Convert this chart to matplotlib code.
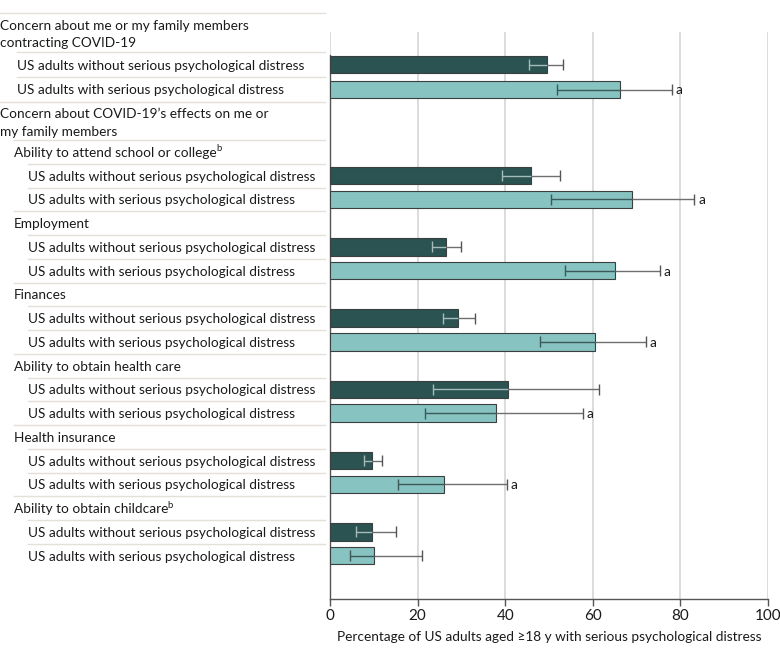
import matplotlib
matplotlib.use("Agg")
import matplotlib.pyplot as plt
import matplotlib.transforms as mtransforms
from matplotlib.lines import Line2D

# ---------------- data ----------------
group1_title = "Concern about me or my family members\ncontracting COVID-19"
group2_title = "Concern about COVID-19\u2019s effects on me or\nmy family members"
series_labels = ["US adults without serious psychological distress",
                 "US adults with serious psychological distress"]

sub_categories = ["Ability to attend school or college", "Employment", "Finances",
                  "Ability to obtain health care", "Health insurance",
                  "Ability to obtain childcare"]
sub_superscripts = ["b", "", "", "", "", "b"]

# values: first entry is group 1 (contracting COVID-19), then the sub categories
without_vals = [49.5, 45.8, 26.5, 29.3, 40.6, 9.5, 9.7]
without_lo   = [45.5, 39.2, 23.4, 25.9, 23.6, 7.7, 6.0]
without_hi   = [53.1, 52.5, 30.0, 33.1, 61.5, 11.8, 15.1]
with_vals    = [66.1, 69.0, 65.1, 60.6, 37.8, 26.0, 10.1]
with_lo      = [51.9, 50.5, 53.6, 48.0, 21.8, 15.5, 4.6]
with_hi      = [78.0, 83.2, 75.3, 72.1, 57.7, 40.3, 21.1]
with_sig     = ["a", "a", "a", "a", "a", "a", ""]

xticks = [0, 20, 40, 60, 80, 100]
xlabel = "Percentage of US adults aged \u226518 y with serious psychological distress"

# ---------------- style ----------------
W, H = 780, 654
DARK = "#2a5352"
LIGHT = "#86c3c1"
EDGE = "#3a3f3f"
SEP = "#e3e0d8"
GRID = "#dcdcdc"
TXT = "#1a1a1a"
FONT = ["Lato", "DejaVu Sans"]

plt.rcParams["font.family"] = FONT

fig = plt.figure(figsize=(W / 100, H / 100), dpi=100)
renderer = fig.canvas.get_renderer()

# fit font size so that the series label spans ~286 px like the reference
_t = fig.text(0, 0, series_labels[0], fontsize=10)
_w = _t.get_window_extent(renderer=renderer).width
_t.remove()
FS = 10 * 286 / _w

ax_left, ax_right = 330, 768
ax_top, ax_bot = 32, 599
ax = fig.add_axes([ax_left / W, 1 - ax_bot / H, (ax_right - ax_left) / W, (ax_bot - ax_top) / H])
ax.set_xlim(0, 100)
ax.set_ylim(ax_bot, ax_top)

# ---------------- layout (pixel rows) ----------------
rows = []
y = 13.0
rows.append(("head", group1_title, 0, y, y + 39)); y += 39
for s in range(2):
    rows.append(("bar", series_labels[s], 17, y, y + 25, 0, s)); y += 25
rows.append(("head", group2_title, 0, y, y + 38)); y += 38
P = 23.75
for i, cat in enumerate(sub_categories):
    rows.append(("sub", cat, 14, y, y + P, i + 1, sub_superscripts[i])); y += P
    for s in range(2):
        rows.append(("bar", series_labels[s], 28, y, y + P, i + 1, s)); y += P

trans = mtransforms.blended_transform_factory(fig.transFigure, ax.transData)

ax.set_axisbelow(True)
ax.grid(axis="x", color=GRID, lw=1.4)
ax.grid(axis="y", visible=False)

BAR_H = 17.5
CAP = 5.5

for r in rows:
    kind, text, indent, yt, yb = r[:5]
    yc = (yt + yb) / 2
    ax.add_line(Line2D([indent / W, 325 / W], [yt, yt], transform=trans, color=SEP,
                       lw=1.0, clip_on=False))
    if kind == "head":
        lines = text.split("\n")
        ax.text(0 / W, yt + 11.5, lines[0], transform=trans, va="center_baseline",
                ha="left", fontsize=FS, color=TXT)
        ax.text(0 / W, yt + 29, lines[1], transform=trans, va="center_baseline",
                ha="left", fontsize=FS, color=TXT)
    elif kind == "sub":
        t = ax.text(indent / W, yc, text, transform=trans, va="center_baseline",
                    ha="left", fontsize=FS, color=TXT)
        sup = r[6]
        if sup:
            bb = t.get_window_extent(renderer=renderer)
            ax.text(bb.x1 / W - 0.5 / W, yc - 4, sup, transform=trans, va="center_baseline",
                    ha="left", fontsize=FS * 0.7, color=TXT)
    else:
        g, s = r[5], r[6]
        ax.text(indent / W, yc, text, transform=trans, va="center_baseline",
                ha="left", fontsize=FS, color=TXT)
        if s == 0:
            v, lo, hi, col, inner = without_vals[g], without_lo[g], without_hi[g], DARK, "#a6bcbb"
            sig = ""
        else:
            v, lo, hi, col, inner = with_vals[g], with_lo[g], with_hi[g], LIGHT, "#3c5858"
            sig = with_sig[g]
        ax.barh(yc, v, height=BAR_H, color=col, edgecolor=EDGE, linewidth=0.8, zorder=3)
        ax.hlines(yc, lo, min(v, hi), color=inner, lw=1.0, zorder=4)
        if hi > v:
            ax.hlines(yc, v, hi, color="#6f6f6f", lw=1.0, zorder=4)
        ax.vlines(lo, yc - CAP, yc + CAP, color=inner, lw=1.0, zorder=4)
        ax.vlines(hi, yc - CAP, yc + CAP, color="#555555" if hi > v else inner, lw=1.0, zorder=4)
        if sig:
            ax.annotate(sig, (hi, yc), xytext=(3, 0), textcoords="offset points",
                        va="center_baseline", ha="left", fontsize=FS, color=TXT)

for side in ["top", "right"]:
    ax.spines[side].set_visible(False)
ax.spines["left"].set_bounds(ax_bot, 55)
ax.spines["left"].set_color("#555555")
ax.spines["bottom"].set_color("#555555")
ax.spines["left"].set_linewidth(1.0)
ax.spines["bottom"].set_linewidth(1.0)
ax.set_yticks([])
ax.set_xticks(xticks)
ax.set_xticklabels([str(t) for t in xticks])
ax.tick_params(axis="x", length=5, width=1.0, color="#555555", labelsize=FS * 1.12,
               labelcolor=TXT, pad=2)
ax.set_xlabel(xlabel, fontsize=FS, color=TXT, labelpad=6)

fig.savefig("out.png", dpi=100)
